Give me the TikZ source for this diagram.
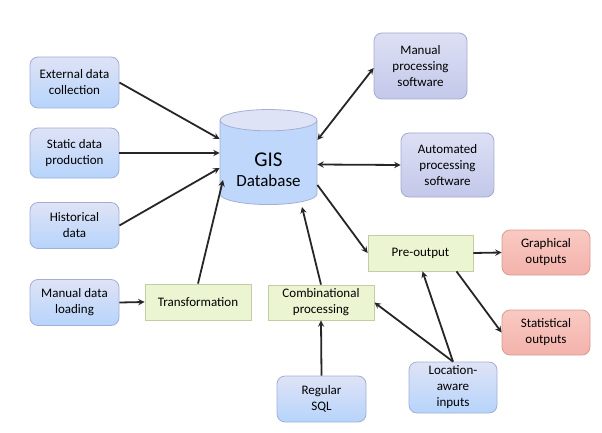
\documentclass[tikz,border=0pt]{standalone}
\usepackage{fontspec}
\setmainfont{Carlito}
\usetikzlibrary{shapes.geometric}
\definecolor{bluetop}{HTML}{DFE3F6}
\definecolor{bluebot}{HTML}{B6D4FB}
\definecolor{blueline}{HTML}{A3AED6}
\definecolor{lavtop}{HTML}{DDE0F4}
\definecolor{lavbot}{HTML}{C3C8EA}
\definecolor{lavline}{HTML}{A6AAD0}
\definecolor{redtop}{HTML}{F9C9C2}
\definecolor{redbot}{HTML}{F3B3AB}
\definecolor{redline}{HTML}{D79B97}
\definecolor{greenfill}{HTML}{EBF5D2}
\definecolor{greenline}{HTML}{C4CCA4}
\definecolor{arrowcol}{HTML}{262626}
\tikzset{
	inbox/.style={draw=blueline, line width=0.8pt, rounded corners=8pt, top color=bluetop, bottom color=bluebot, align=center, inner sep=2pt, font=\fontsize{13}{16}\selectfont},
	softbox/.style={inbox, draw=lavline, top color=lavtop, bottom color=lavbot},
	outbox/.style={inbox, draw=redline, top color=redtop, bottom color=redbot},
	stepbox/.style={draw=greenline, line width=0.8pt, fill=greenfill, align=center, inner sep=2pt, minimum height=36pt, font=\fontsize{13}{16}\selectfont},
	arr/.style={-stealth, line width=1.8pt, arrowcol},
	dblarr/.style={stealth-stealth, line width=1.8pt, arrowcol}
}
\begin{document}
\begin{tikzpicture}[x=1pt,y=-1pt]
			\useasboundingbox (0,0) rectangle (602,433);
			\node[inbox, minimum width=89pt, minimum height=51pt] (ext) at (74.5,82.5) {External data\\collection};
			\node[inbox, minimum width=89pt, minimum height=50pt] (static) at (74.5,153) {Static data\\production};
			\node[inbox, minimum width=89pt, minimum height=46pt] (hist) at (74.5,225.5) {Historical\\data};
			\node[inbox, minimum width=89pt, minimum height=46pt] (load) at (74.5,302.5) {Manual data\\loading};
			\node[stepbox, minimum width=106pt] (trans) at (198,302) {Transformation};
			\node[stepbox, minimum width=106pt, minimum height=35pt] (comb) at (321,302.5) {Combinational\\processing};
			\node[inbox, minimum width=89pt, minimum height=46pt] (sql) at (321.5,399) {Regular\\SQL};
			\node[inbox, minimum width=88pt, minimum height=51pt] (loc) at (453,387.5) {Location-\\aware\\inputs};
			\node[stepbox, minimum width=105pt] (pre) at (420.5,253) {Pre-output};
			\node[outbox, minimum width=88pt, minimum height=45pt] (graph) at (546,252.5) {Graphical\\outputs};
			\node[outbox, minimum width=88pt, minimum height=45pt] (stat) at (546,332.5) {Statistical\\outputs};
			\node[softbox, minimum width=93pt, minimum height=66pt] (manproc) at (420.5,66) {Manual\\processing\\software};
			\node[softbox, minimum width=93pt, minimum height=64pt] (autoproc) at (447.5,165) {Automated\\processing\\software};
			\node[cylinder, shape border rotate=90, aspect=0.3, draw=blueline, line width=0.8pt, cylinder uses custom fill, cylinder end fill=bluetop, cylinder body fill=bluebot!80!bluetop, minimum width=97pt, minimum height=95pt] (db) at (268.5,164.5)
				{\raisebox{-7pt}[\height][\depth]{\begin{tabular}{@{}c@{}}\fontsize{21}{21}\selectfont GIS\\[5pt]\fontsize{17}{21}\selectfont Database\end{tabular}}};
			\draw[arr] (ext.east) -- ([yshift=25.5pt]db.center -| db.west);
			\draw[arr] (static.east) -- ([yshift=11.5pt]db.center -| db.west);
			\draw[arr] (hist.east) -- ([yshift=-3.5pt]db.center -| db.west);
			\draw[arr] (load.east) -- (trans.west);
			\draw[arr] (trans.north) -- ([xshift=-45.5pt,yshift=-15.5pt]db.center);
			\draw[arr] (comb.north) -- ([xshift=33.5pt,yshift=-42.5pt]db.center);
			\draw[dblarr] ([yshift=24.5pt]db.center -| db.east) -- ([yshift=-2pt]manproc.west);
			\draw[dblarr] (db.center -| db.east) -- (autoproc.west);
			\draw[arr] ([yshift=-20.5pt]db.center -| db.east) -- (pre.west);
			\draw[arr] (pre.east) -- (graph.west);
			\draw[arr] ([xshift=36pt]pre.south) -- (stat.west);
			\draw[arr] (sql.north) -- (comb.south);
			\draw[arr] (loc.north) -- ([xshift=2pt]pre.south);
			\draw[arr] (loc.north) -- (comb.east);
		\end{tikzpicture}
\end{document}
